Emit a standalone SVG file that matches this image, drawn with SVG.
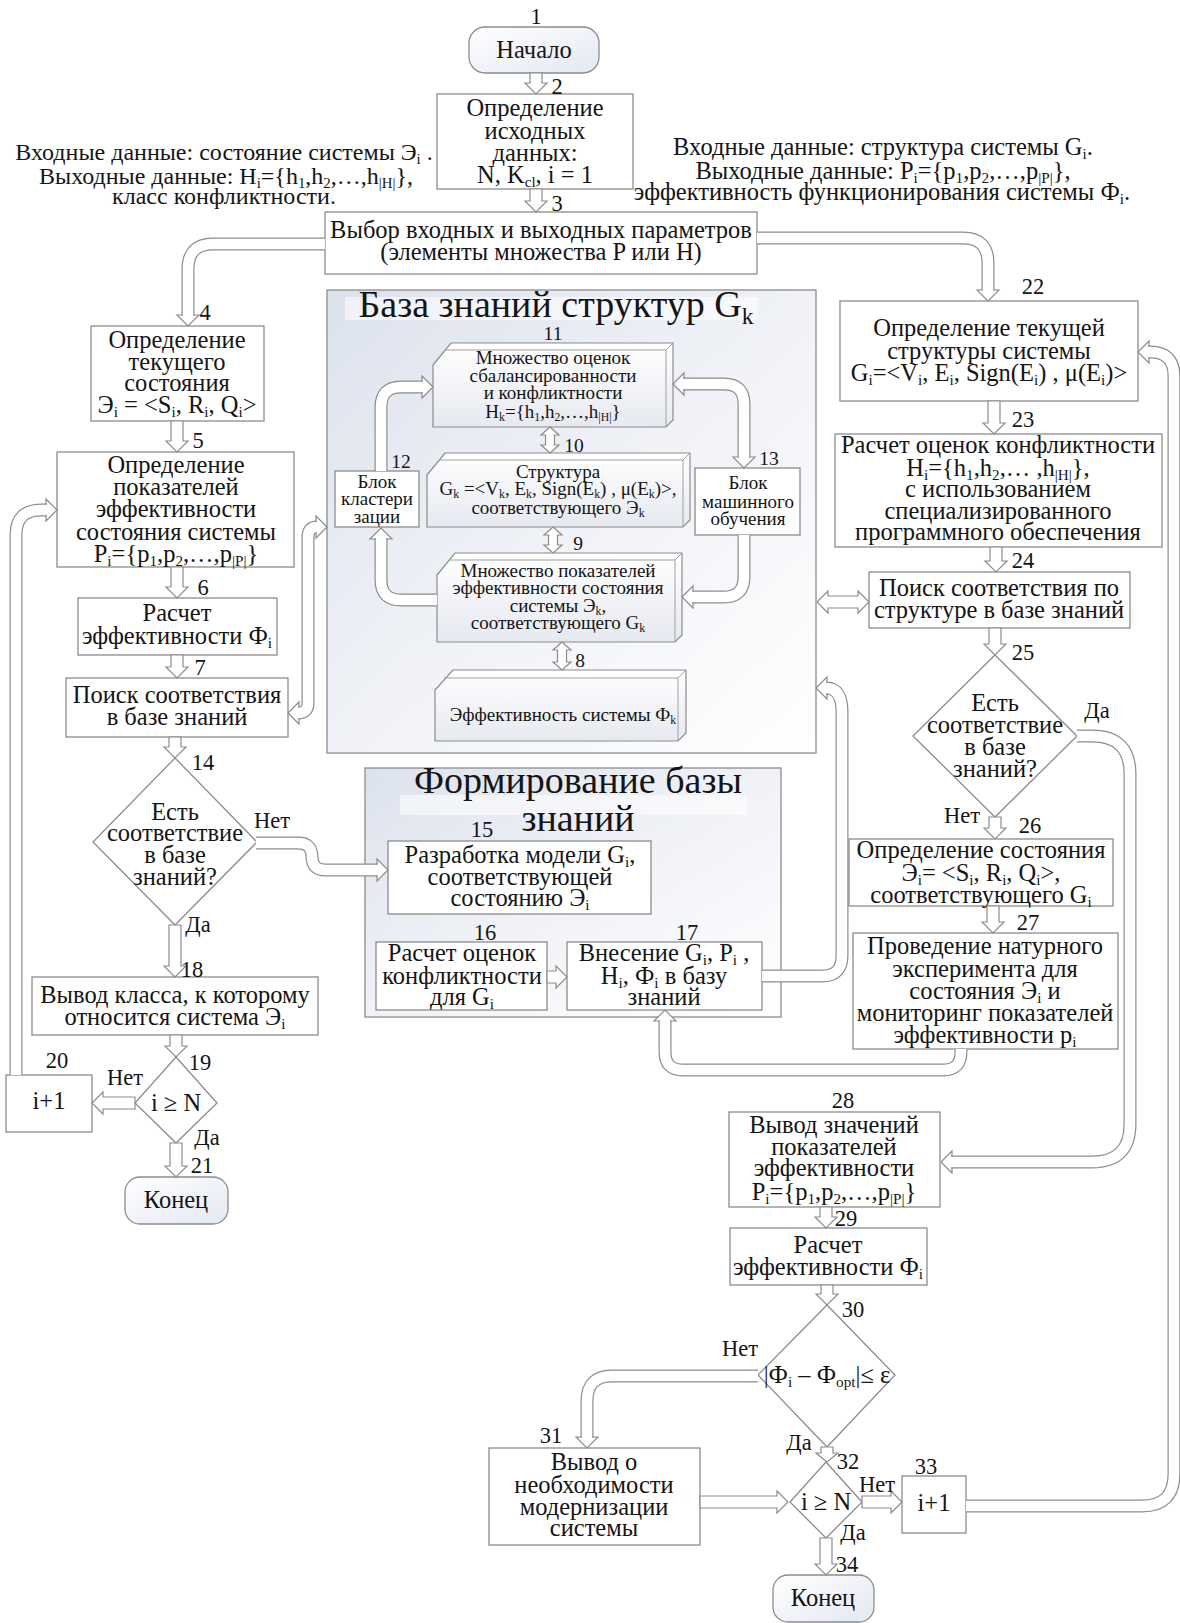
<svg xmlns="http://www.w3.org/2000/svg" width="1180" height="1623" viewBox="0 0 1180 1623">
<defs>
  <linearGradient id="gKB" x1="0" y1="0" x2="1" y2="1">
    <stop offset="0" stop-color="#dce2ed"/>
    <stop offset="0.5" stop-color="#f0f2f7"/>
    <stop offset="1" stop-color="#ffffff"/>
  </linearGradient>
  <linearGradient id="gCube" x1="0" y1="0" x2="0" y2="1">
    <stop offset="0" stop-color="#ffffff"/>
    <stop offset="1" stop-color="#e6e9f0"/>
  </linearGradient>
  <linearGradient id="gTerm" x1="0" y1="0" x2="1" y2="1">
    <stop offset="0" stop-color="#ffffff"/>
    <stop offset="1" stop-color="#e3e8f1"/>
  </linearGradient>
  <style>
    text { font-family: "Liberation Serif", "Times New Roman", "DejaVu Serif", serif; fill: #151515; }
    .t { font-size: 24.5px; text-anchor: middle; }
    .a { font-size: 24px; text-anchor: middle; }
    .n { font-size: 22.5px; text-anchor: middle; }
    .nk { font-size: 19.5px; text-anchor: middle; }
    .k { font-size: 19px; text-anchor: middle; }
    .h { font-size: 38px; text-anchor: middle; }
    .s { font-size: 62%; baseline-shift: -0.28em; }
    .bx { fill: #ffffff; stroke: #8c8c8c; stroke-width: 1.3; }
    .term { fill: url(#gTerm); stroke: #8c8c8c; stroke-width: 1.3; }
    .cont { fill: url(#gKB); stroke: #8c8c8c; stroke-width: 1.3; }
    .cube { fill: url(#gCube); stroke: #8c8c8c; stroke-width: 1.2; }
    .edge { fill: none; stroke: #a0a0a0; stroke-width: 1; }
    .ar { fill: #ffffff; stroke: #8c8c8c; stroke-width: 1.2; stroke-linejoin: miter; }
    .co { fill: none; stroke: #8c8c8c; stroke-width: 13; }
    .ci { fill: none; stroke: #ffffff; stroke-width: 10.6; }
    .glow { fill: #ffffff; opacity: 0.55; }
  </style>
</defs>

<rect x="0" y="0" width="1180" height="1623" fill="#ffffff"/>

<!-- input / output notes -->
<g id="notes">
  <text class="a" x="224" y="160">Входные данные: состояние системы Э<tspan class="s">i</tspan> .</text>
  <text class="a" x="226" y="184">Выходные данные: H<tspan class="s">i</tspan>={h<tspan class="s">1</tspan>,h<tspan class="s">2</tspan>,…,h<tspan class="s">|H|</tspan>},</text>
  <text class="a" x="224" y="204">класс конфликтности.</text>
  <text class="t" x="883" y="155">Входные данные: структура системы G<tspan class="s">i</tspan>.</text>
  <text class="t" x="883" y="179">Выходные данные: P<tspan class="s">i</tspan>={p<tspan class="s">1</tspan>,p<tspan class="s">2</tspan>,…,p<tspan class="s">|P|</tspan>},</text>
  <text class="t" x="882" y="200">эффективность функционирования системы Ф<tspan class="s">i</tspan>.</text>
</g>

<!-- knowledge base container -->
<g id="kb">
  <rect class="cont" x="327" y="290" width="489" height="463"/>
  <rect class="glow" x="345" y="297" width="413" height="23"/>
  <text class="h" x="556" y="317">База знаний структур G<tspan class="s">k</tspan></text>
</g>

<!-- knowledge base formation container -->
<g id="kb-form">
  <rect class="cont" x="365" y="768" width="416" height="249"/>
  <rect class="glow" x="400" y="795" width="347" height="20"/>
  <text class="h" x="578" y="793">Формирование базы</text>
  <text class="h" x="578" y="831">знаний</text>
</g>

<!-- nodes -->
<g id="n1"><rect class="term" x="469" y="27" width="130" height="46" rx="16"/><text class="t" x="534" y="58">Начало</text></g>
<g id="n2"><rect class="bx" x="437" y="94" width="196" height="95"/>
  <text class="t" x="535" y="116">Определение</text>
  <text class="t" x="535" y="139">исходных</text>
  <text class="t" x="535" y="161">данных:</text>
  <text class="t" x="535" y="183">N, K<tspan class="s">cl</tspan>, i = 1</text></g>
<g id="n3"><rect class="bx" x="325" y="212" width="432" height="62"/>
  <text class="t" x="541" y="238">Выбор входных и выходных параметров</text>
  <text class="t" x="541" y="260">(элементы множества P или H)</text></g>
<g id="n4"><rect class="bx" x="91" y="326" width="173" height="95"/>
  <text class="t" x="177" y="348">Определение</text>
  <text class="t" x="177" y="370">текущего</text>
  <text class="t" x="177" y="391">состояния</text>
  <text class="t" x="177" y="413">Э<tspan class="s">i</tspan> = &lt;S<tspan class="s">i</tspan>, R<tspan class="s">i</tspan>, Q<tspan class="s">i</tspan>&gt;</text></g>
<g id="n5"><rect class="bx" x="57" y="452" width="237" height="115"/>
  <text class="t" x="176" y="473">Определение</text>
  <text class="t" x="176" y="495">показателей</text>
  <text class="t" x="176" y="517">эффективности</text>
  <text class="t" x="176" y="540">состояния системы</text>
  <text class="t" x="176" y="562">P<tspan class="s">i</tspan>={p<tspan class="s">1</tspan>,p<tspan class="s">2</tspan>,…,p<tspan class="s">|P|</tspan>}</text></g>
<g id="n6"><rect class="bx" x="78" y="598" width="199" height="57"/>
  <text class="t" x="177" y="621">Расчет</text>
  <text class="t" x="177" y="644">эффективности Ф<tspan class="s">i</tspan></text></g>
<g id="n7"><rect class="bx" x="66" y="678" width="222" height="59"/>
  <text class="t" x="177" y="703">Поиск соответствия</text>
  <text class="t" x="177" y="725">в базе знаний</text></g>

<g id="n8"><polygon class="cube" points="435,690 453,670 686,670 686,733 678,741 435,741"/>
  <path class="edge" d="M444,678 H678 V741 M678,678 L686,670"/>
  <text class="k" x="563" y="721">Эффективность системы Ф<tspan class="s">k</tspan></text></g>
<g id="n9"><polygon class="cube" points="437,575 455,553 682,553 682,635 675,642 437,642"/>
  <path class="edge" d="M449,560 H675 V642 M675,560 L682,553"/>
  <text class="k" x="558" y="577">Множество показателей</text>
  <text class="k" x="558" y="594">эффективности состояния</text>
  <text class="k" x="558" y="612">системы Э<tspan class="s">k</tspan>,</text>
  <text class="k" x="558" y="629">соответствующего G<tspan class="s">k</tspan></text></g>
<g id="n10"><polygon class="cube" points="427,475 445,453 690,453 690,520 683,527 427,527"/>
  <path class="edge" d="M439,460 H683 V527 M683,460 L690,453"/>
  <text class="k" x="558" y="478">Структура</text>
  <text class="k" x="558" y="495">G<tspan class="s">k</tspan> =&lt;V<tspan class="s">k</tspan>, E<tspan class="s">k</tspan>, Sign(E<tspan class="s">k</tspan>) , μ(E<tspan class="s">k</tspan>)&gt;,</text>
  <text class="k" x="558" y="514">соответствующего Э<tspan class="s">k</tspan></text></g>
<g id="n11"><polygon class="cube" points="433,365 451,343 673,343 673,420 666,427 433,427"/>
  <path class="edge" d="M445,350 H666 V427 M666,350 L673,343"/>
  <text class="k" x="553" y="364">Множество оценок</text>
  <text class="k" x="553" y="382">сбалансированности</text>
  <text class="k" x="553" y="399">и конфликтности</text>
  <text class="k" x="553" y="418">H<tspan class="s">k</tspan>={h<tspan class="s">1</tspan>,h<tspan class="s">2</tspan>,…,h<tspan class="s">|H|</tspan>}</text></g>
<g id="n12"><rect class="bx" x="335" y="471" width="84" height="56"/>
  <text class="k" x="377" y="488">Блок</text>
  <text class="k" x="377" y="505">кластери</text>
  <text class="k" x="377" y="523">зации</text></g>
<g id="n13"><rect class="bx" x="695" y="468" width="105" height="67"/>
  <text class="k" x="748" y="489">Блок</text>
  <text class="k" x="748" y="508">машинного</text>
  <text class="k" x="748" y="525">обучения</text></g>

<g id="n14"><polygon class="bx" points="175,758 257,842 175,925 93,842"/>
  <text class="t" x="175" y="820">Есть</text>
  <text class="t" x="175" y="841">соответствие</text>
  <text class="t" x="175" y="863">в базе</text>
  <text class="t" x="175" y="885">знаний?</text></g>
<g id="n15"><rect class="bx" x="388" y="841" width="263" height="73"/>
  <text class="t" x="520" y="863">Разработка модели G<tspan class="s">i</tspan>,</text>
  <text class="t" x="520" y="885">соответствующей</text>
  <text class="t" x="520" y="906">состоянию Э<tspan class="s">i</tspan></text></g>
<g id="n16"><rect class="bx" x="376" y="942" width="171" height="68"/>
  <text class="t" x="462" y="961">Расчет оценок</text>
  <text class="t" x="462" y="984">конфликтности</text>
  <text class="t" x="462" y="1005">для G<tspan class="s">i</tspan></text></g>
<g id="n17"><rect class="bx" x="567" y="942" width="195" height="68"/>
  <text class="t" x="664" y="961">Внесение G<tspan class="s">i</tspan>, P<tspan class="s">i</tspan> ,</text>
  <text class="t" x="664" y="984">H<tspan class="s">i</tspan>, Ф<tspan class="s">i</tspan> в базу</text>
  <text class="t" x="664" y="1005">знаний</text></g>
<g id="n18"><rect class="bx" x="32" y="977" width="286" height="58"/>
  <text class="t" x="175" y="1003">Вывод класса, к которому</text>
  <text class="t" x="175" y="1025">относится система Э<tspan class="s">i</tspan></text></g>
<g id="n19"><polygon class="bx" points="176,1057 217,1103 176,1143 135,1103"/>
  <text class="t" x="176" y="1111">i ≥ N</text></g>
<g id="n20"><rect class="bx" x="6" y="1075" width="86" height="57"/>
  <text class="t" x="49" y="1109">i+1</text></g>
<g id="n21"><rect class="term" x="125" y="1177" width="103" height="47" rx="15"/>
  <text class="t" x="176" y="1208">Конец</text></g>

<g id="n22"><rect class="bx" x="840" y="301" width="298" height="100"/>
  <text class="t" x="989" y="336">Определение текущей</text>
  <text class="t" x="989" y="359">структуры системы</text>
  <text class="t" x="989" y="381">G<tspan class="s">i</tspan>=&lt;V<tspan class="s">i</tspan>, E<tspan class="s">i</tspan>, Sign(E<tspan class="s">i</tspan>) , μ(E<tspan class="s">i</tspan>)&gt;</text></g>
<g id="n23"><rect class="bx" x="835" y="434" width="327" height="113"/>
  <text class="t" x="998" y="453">Расчет оценок конфликтности</text>
  <text class="t" x="998" y="476">H<tspan class="s">i</tspan>={h<tspan class="s">1</tspan>,h<tspan class="s">2</tspan>,… ,h<tspan class="s">|H|</tspan>},</text>
  <text class="t" x="998" y="497">с использованием</text>
  <text class="t" x="998" y="519">специализированного</text>
  <text class="t" x="998" y="540">программного обеспечения</text></g>
<g id="n24"><rect class="bx" x="869" y="572" width="261" height="56"/>
  <text class="t" x="999" y="596">Поиск соответствия по</text>
  <text class="t" x="999" y="618">структуре в базе знаний</text></g>
<g id="n25"><polygon class="bx" points="995,655 1077,736 995,817 913,736"/>
  <text class="t" x="995" y="711">Есть</text>
  <text class="t" x="995" y="733">соответствие</text>
  <text class="t" x="995" y="755">в базе</text>
  <text class="t" x="995" y="777">знаний?</text></g>
<g id="n26"><rect class="bx" x="849" y="839" width="264" height="67"/>
  <text class="t" x="981" y="858">Определение состояния</text>
  <text class="t" x="981" y="881">Э<tspan class="s">i</tspan>= &lt;S<tspan class="s">i</tspan>, R<tspan class="s">i</tspan>, Q<tspan class="s">i</tspan>&gt;,</text>
  <text class="t" x="981" y="903">соответствующего G<tspan class="s">i</tspan></text></g>
<g id="n27"><rect class="bx" x="853" y="933" width="265" height="116"/>
  <text class="t" x="985" y="954">Проведение натурного</text>
  <text class="t" x="985" y="977">эксперимента для</text>
  <text class="t" x="985" y="999">состояния Э<tspan class="s">i</tspan> и</text>
  <text class="t" x="985" y="1021">мониторинг показателей</text>
  <text class="t" x="985" y="1043">эффективности p<tspan class="s">i</tspan></text></g>
<g id="n28"><rect class="bx" x="729" y="1112" width="211" height="95"/>
  <text class="t" x="834" y="1133">Вывод значений</text>
  <text class="t" x="834" y="1155">показателей</text>
  <text class="t" x="834" y="1176">эффективности</text>
  <text class="t" x="834" y="1200">P<tspan class="s">i</tspan>={p<tspan class="s">1</tspan>,p<tspan class="s">2</tspan>,…,p<tspan class="s">|P|</tspan>}</text></g>
<g id="n29"><rect class="bx" x="730" y="1228" width="197" height="57"/>
  <text class="t" x="828" y="1253">Расчет</text>
  <text class="t" x="828" y="1275">эффективности Ф<tspan class="s">i</tspan></text></g>
<g id="n30"><polygon class="bx" points="827,1305 895,1375 827,1447 758,1375"/>
  <text class="t" x="827" y="1383">|Ф<tspan class="s">i</tspan> – Ф<tspan class="s">opt</tspan>|≤ ε</text></g>
<g id="n31"><rect class="bx" x="489" y="1448" width="211" height="97"/>
  <text class="t" x="594" y="1470">Вывод о</text>
  <text class="t" x="594" y="1493">необходимости</text>
  <text class="t" x="594" y="1515">модернизации</text>
  <text class="t" x="594" y="1536">системы</text></g>
<g id="n32"><polygon class="bx" points="826,1462 862,1502 826,1538 790,1502"/>
  <text class="t" x="826" y="1510">i ≥ N</text></g>
<g id="n33"><rect class="bx" x="902" y="1476" width="64" height="57"/>
  <text class="t" x="934" y="1511">i+1</text></g>
<g id="n34"><rect class="term" x="773" y="1575" width="101" height="47" rx="15"/>
  <text class="t" x="823" y="1606">Конец</text></g>

<!-- connectors: hollow block arrows -->
<g id="connectors">
  <!-- straight arrows -->
  <polygon class="ar" points="530,73 542,73 542,83 547,83 536,94 525,83 530,83"/>
  <polygon class="ar" points="530,189 542,189 542,201 547,201 536,212 525,201 530,201"/>
  <polygon class="ar" points="171,421 183,421 183,441 188,441 177,452 166,441 171,441"/>
  <polygon class="ar" points="171,567 183,567 183,587 188,587 177,598 166,587 171,587"/>
  <polygon class="ar" points="171,655 183,655 183,667 188,667 177,678 166,667 171,667"/>
  <polygon class="ar" points="169,737 181,737 181,747 186,747 175,758 164,747 169,747"/>
  <polygon class="ar" points="169,925 181,925 181,966 186,966 175,977 164,966 169,966"/>
  <polygon class="ar" points="170,1035 182,1035 182,1046 187,1046 176,1057 165,1046 170,1046"/>
  <polygon class="ar" points="170,1143 182,1143 182,1166 187,1166 176,1177 165,1166 170,1166"/>
  <polygon class="ar" points="135,1097 135,1109 103,1109 103,1114 92,1103 103,1092 103,1097"/>
  <polygon class="ar" points="988,401 1000,401 1000,423 1005,423 994,434 983,423 988,423"/>
  <polygon class="ar" points="990,547 1002,547 1002,561 1007,561 996,572 985,561 990,561"/>
  <polygon class="ar" points="989,628 1001,628 1001,644 1006,644 995,655 984,644 989,644"/>
  <polygon class="ar" points="989,817 1001,817 1001,828 1006,828 995,839 984,828 989,828"/>
  <polygon class="ar" points="987,906 999,906 999,922 1004,922 993,933 982,922 987,922"/>
  <polygon class="ar" points="820,1207 832,1207 832,1217 837,1217 826,1228 815,1217 820,1217"/>
  <polygon class="ar" points="821,1285 833,1285 833,1294 838,1294 827,1305 816,1294 821,1294"/>
  <polygon class="ar" points="821,1447 833,1447 833,1453 838,1453 827,1462 816,1453 821,1453"/>
  <polygon class="ar" points="820,1538 832,1538 832,1564 837,1564 826,1575 815,1564 820,1564"/>
  <polygon class="ar" points="547,971 547,983 556,983 556,988 567,977 556,966 556,971"/>
  <polygon class="ar" points="700,1496 700,1508 777,1508 777,1513 788,1502 777,1491 777,1496"/>
  <polygon class="ar" points="862,1496 862,1508 891,1508 891,1513 902,1502 891,1491 891,1496"/>
  <polygon class="ar" points="817,602 828,591 828,596 858,596 858,591 869,602 858,613 858,608 828,608 828,613"/>
  <polygon class="ar" points="550,427 559,435 554.5,435 554.5,445 559,445 550,453 541,445 545.5,445 545.5,435 541,435"/>
  <polygon class="ar" points="553,527 562,535 557.5,535 557.5,545 562,545 553,553 544,545 548.5,545 548.5,535 544,535"/>
  <polygon class="ar" points="562,642 571,650 566.5,650 566.5,662 571,662 562,670 553,662 557.5,662 557.5,650 553,650"/>

  <!-- bent arrows: heads first, then the double-line shafts -->
  <polygon class="ar" points="177,315 199,315 188,326"/>
  <path class="co" d="M325,244 H213 Q188,244 188,269 V316"/>
  <path class="ci" d="M325,244 H213 Q188,244 188,269 V316"/>

  <polygon class="ar" points="977,290 999,290 988,301"/>
  <path class="co" d="M757,238 H963 Q988,238 988,263 V291"/>
  <path class="ci" d="M757,238 H963 Q988,238 988,263 V291"/>

  <polygon class="ar" points="299,702 299,724 288,713"/>
  <polygon class="ar" points="316,516 316,538 327,527"/>
  <path class="co" d="M298,713 Q308,713 308,703 V537 Q308,527 317,527"/>
  <path class="ci" d="M298,713 Q308,713 308,703 V537 Q308,527 317,527"/>

  <polygon class="ar" points="377,859 377,881 388,870"/>
  <path class="co" d="M256,843 H298 Q312,843 312,857 Q312,870 326,870 H378"/>
  <path class="ci" d="M256,843 H298 Q312,843 312,857 Q312,870 326,870 H378"/>

  <polygon class="ar" points="46,499 46,521 57,510"/>
  <path class="co" d="M16,1075 V535 Q16,510 41,510 H47"/>
  <path class="ci" d="M16,1075 V535 Q16,510 41,510 H47"/>

  <polygon class="ar" points="422,376 422,398 433,387"/>
  <path class="co" d="M381,471 V407 Q381,387 401,387 H423"/>
  <path class="ci" d="M381,471 V407 Q381,387 401,387 H423"/>

  <polygon class="ar" points="370,539 392,539 381,528"/>
  <path class="co" d="M437,600 H401 Q381,600 381,580 V538"/>
  <path class="ci" d="M437,600 H401 Q381,600 381,580 V538"/>

  <polygon class="ar" points="684,373 684,395 673,384"/>
  <polygon class="ar" points="733,457 755,457 744,468"/>
  <path class="co" d="M683,384 H724 Q744,384 744,404 V458"/>
  <path class="ci" d="M683,384 H724 Q744,384 744,404 V458"/>

  <polygon class="ar" points="693,586 693,608 682,597"/>
  <path class="co" d="M744,535 V577 Q744,597 724,597 H692"/>
  <path class="ci" d="M744,535 V577 Q744,597 724,597 H692"/>

  <polygon class="ar" points="827,677 827,699 816,688"/>
  <path class="co" d="M762,976 H822 Q842,976 842,956 V712 Q842,688 826,688"/>
  <path class="ci" d="M762,976 H822 Q842,976 842,956 V712 Q842,688 826,688"/>

  <polygon class="ar" points="654,1021 676,1021 665,1010"/>
  <path class="co" d="M961,1049 V1052 Q961,1070 943,1070 H683 Q665,1070 665,1052 V1020"/>
  <path class="ci" d="M961,1049 V1052 Q961,1070 943,1070 H683 Q665,1070 665,1052 V1020"/>

  <polygon class="ar" points="952,1151 952,1173 941,1162"/>
  <path class="co" d="M1077,736 H1092 Q1130,736 1130,774 V1124 Q1130,1162 1092,1162 H951"/>
  <path class="ci" d="M1077,736 H1092 Q1130,736 1130,774 V1124 Q1130,1162 1092,1162 H951"/>

  <polygon class="ar" points="576,1437 598,1437 587,1448"/>
  <path class="co" d="M758,1376 H612 Q587,1376 587,1401 V1438"/>
  <path class="ci" d="M758,1376 H612 Q587,1376 587,1401 V1438"/>

  <polygon class="ar" points="1149,341 1149,363 1138,352"/>
  <path class="co" d="M966,1506 H1142 Q1174,1506 1174,1474 V376 Q1174,352 1150,352 H1148"/>
  <path class="ci" d="M966,1506 H1142 Q1174,1506 1174,1474 V376 Q1174,352 1150,352 H1148"/>
</g>

<!-- step numbers and branch labels -->
<g id="labels">
  <text class="n" x="536" y="24">1</text>
  <text class="n" x="557" y="94">2</text>
  <text class="n" x="557" y="211">3</text>
  <text class="n" x="205" y="320">4</text>
  <text class="n" x="198" y="448">5</text>
  <text class="n" x="203" y="595">6</text>
  <text class="n" x="200" y="675">7</text>
  <text class="nk" x="580" y="667">8</text>
  <text class="nk" x="578" y="550">9</text>
  <text class="nk" x="574" y="452">10</text>
  <text class="nk" x="553" y="340">11</text>
  <text class="nk" x="401" y="468">12</text>
  <text class="nk" x="769" y="465">13</text>
  <text class="n" x="203" y="770">14</text>
  <text class="n" x="482" y="837">15</text>
  <text class="n" x="485" y="940">16</text>
  <text class="n" x="687" y="940">17</text>
  <text class="n" x="192" y="977">18</text>
  <text class="n" x="200" y="1070">19</text>
  <text class="n" x="57" y="1068">20</text>
  <text class="n" x="202" y="1173">21</text>
  <text class="n" x="1033" y="294">22</text>
  <text class="n" x="1023" y="427">23</text>
  <text class="n" x="1023" y="568">24</text>
  <text class="n" x="1023" y="660">25</text>
  <text class="n" x="1030" y="833">26</text>
  <text class="n" x="1028" y="930">27</text>
  <text class="n" x="843" y="1108">28</text>
  <text class="n" x="846" y="1226">29</text>
  <text class="n" x="853" y="1317">30</text>
  <text class="n" x="551" y="1443">31</text>
  <text class="n" x="848" y="1469">32</text>
  <text class="n" x="926" y="1474">33</text>
  <text class="n" x="847" y="1572">34</text>

  <text class="n" x="272" y="828">Нет</text>
  <text class="n" x="198" y="932">Да</text>
  <text class="n" x="125" y="1085">Нет</text>
  <text class="n" x="207" y="1145">Да</text>
  <text class="n" x="1097" y="718">Да</text>
  <text class="n" x="962" y="823">Нет</text>
  <text class="n" x="740" y="1356">Нет</text>
  <text class="n" x="799" y="1450">Да</text>
  <text class="n" x="877" y="1492">Нет</text>
  <text class="n" x="853" y="1540">Да</text>
</g>
</svg>
